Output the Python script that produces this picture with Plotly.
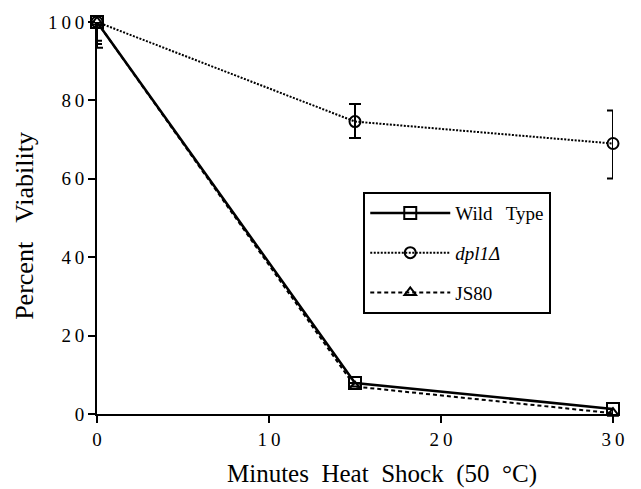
import plotly.graph_objects as go

minutes = [0, 15, 30]
x_ticks = [0, 10, 20, 30]
y_ticks = [0, 20, 40, 60, 80, 100]

wt_vals = [100, 7.9, 1.3]
wt_err_minus = [4.8, 0, 2.8]

dpl_vals = [100, 74.6, 69.0]
dpl_err_plus = [0, 4.5, 8.4]
dpl_err_minus = [6.6, 4.2, 8.9]

js_vals = [100, 7.0, 0.2]
js_err_minus = [5.6, 0, 0]

x_title = "Minutes Heat Shock (50 °C)"
y_title = "Percent Viability"

font_family = "'Liberation Serif', 'Times New Roman', serif"
GAP = "\u2002"


def spaced(v):
    return "\u2009".join(str(v))


fig = go.Figure()

fig.add_trace(go.Scatter(
    x=minutes, y=wt_vals, name="Wild\u2002\u2009Type", mode="lines+markers",
    line=dict(color="black", width=2.5, dash="solid"),
    marker=dict(symbol="square-open", size=12, color="black", line=dict(width=2)),
    error_y=dict(type="data", symmetric=False, array=[0, 0, 0], arrayminus=wt_err_minus,
                 color="black", thickness=2, width=5),
    cliponaxis=False, legendgroup="a",
))
fig.add_trace(go.Scatter(
    x=minutes, y=dpl_vals, name="<i>dpl1Δ</i>", mode="lines+markers",
    line=dict(color="black", width=2, dash="2px,1.5px"),
    marker=dict(symbol="circle-open", size=11, color="black", line=dict(width=2)),
    error_y=dict(type="data", symmetric=False, array=dpl_err_plus, arrayminus=dpl_err_minus,
                 color="black", thickness=2, width=6),
    cliponaxis=False, legendgroup="b",
))
fig.add_trace(go.Scatter(
    x=minutes, y=js_vals, name="JS80", mode="lines+markers",
    line=dict(color="black", width=2, dash="4px,3px"),
    marker=dict(symbol="triangle-up-open", size=10, color="black", line=dict(width=2)),
    error_y=dict(type="data", symmetric=False, array=[0, 0, 0], arrayminus=js_err_minus,
                 color="black", thickness=2, width=5),
    cliponaxis=False, legendgroup="c",
))

fig.update_layout(
    width=641, height=489,
    margin=dict(l=97, r=28, t=20, b=75),
    paper_bgcolor="white", plot_bgcolor="white",
    font=dict(family=font_family, color="black", size=19),
    legend=dict(
        x=0.516, y=0.566, xanchor="left", yanchor="top",
        bordercolor="black", borderwidth=2, bgcolor="white",
        font=dict(size=19, family=font_family),
        tracegroupgap=12, itemwidth=80,
    ),
    xaxis=dict(
        range=[0, 30], tickvals=x_ticks, ticktext=[spaced(v) for v in x_ticks],
        ticks="outside", ticklen=7, tickwidth=2, tickcolor="black",
        showline=True, linecolor="black", linewidth=2, showgrid=False, zeroline=False,
        tickfont=dict(size=19, family=font_family),
    ),
    yaxis=dict(
        range=[0, 100], tickvals=y_ticks, ticktext=[spaced(v) for v in y_ticks],
        ticks="outside", ticklen=7, tickwidth=2, tickcolor="black",
        showline=True, linecolor="black", linewidth=2, showgrid=False, zeroline=False,
        tickfont=dict(size=19, family=font_family),
    ),
    annotations=[
        dict(
            text=x_title.replace(" ", GAP), xref="paper", yref="paper",
            x=0.553, y=0, xanchor="center", yanchor="top", yshift=-44,
            showarrow=False, font=dict(size=25, family=font_family),
        ),
        dict(
            text=y_title.replace(" ", GAP + " "), xref="paper", yref="paper",
            x=-0.1395, y=0.48, xanchor="center", yanchor="middle", textangle=-90,
            showarrow=False, font=dict(size=26, family=font_family),
        ),
    ],
)

fig.write_html("out.html")
